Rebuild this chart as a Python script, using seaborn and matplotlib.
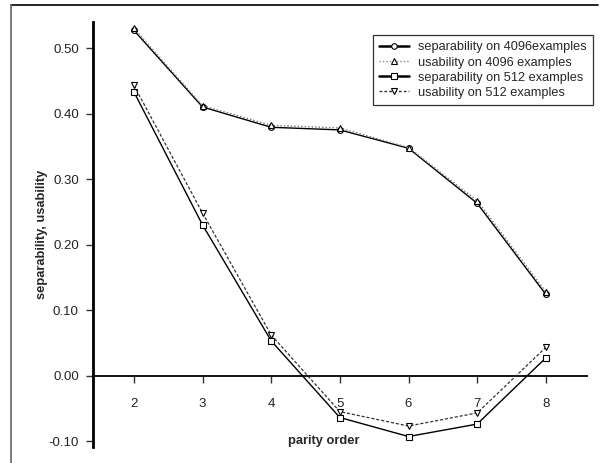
import matplotlib
matplotlib.use("Agg")
import matplotlib.pyplot as plt
from matplotlib.lines import Line2D
import seaborn as sns
import pandas as pd

# parity order on the x axis
parity_order = [2, 3, 4, 5, 6, 7, 8]

# separability / usability measured on two training-set sizes
sep_4096 = [0.527, 0.410, 0.379, 0.375, 0.347, 0.263, 0.124]
usa_4096 = [0.530, 0.412, 0.382, 0.378, 0.348, 0.267, 0.128]
sep_512 = [0.433, 0.230, 0.053, -0.064, -0.093, -0.074, 0.027]
usa_512 = [0.443, 0.248, 0.062, -0.055, -0.077, -0.057, 0.043]

series_names = [
    "separability on 4096examples",
    "usability on 4096 examples",
    "separability on 512 examples",
    "usability on 512 examples",
]
y_ticks = [-0.10, 0.00, 0.10, 0.20, 0.30, 0.40, 0.50]

sns.set_style("white")
plt.rcParams["font.family"] = ["Liberation Sans", "DejaVu Sans"]

frames = []
for name, vals in zip(series_names, [sep_4096, usa_4096, sep_512, usa_512]):
    frames.append(pd.DataFrame({"order": parity_order, "value": vals, "series": name}))
df = pd.concat(frames, ignore_index=True)

styles = {
    series_names[0]: dict(color="black", ls="-", lw=1.0, marker="o"),
    series_names[1]: dict(color="#777777", ls=(0, (1, 1.5)), lw=1.0, marker="^"),
    series_names[2]: dict(color="black", ls="-", lw=1.0, marker="s"),
    series_names[3]: dict(color="#333333", ls=(0, (2.5, 1.5)), lw=0.9, marker="v"),
}

fig = plt.figure(figsize=(6.01, 4.63), dpi=100)
ax_left, ax_bottom_px, ax_top_px, ax_right = 92.7, 447, 22, 587
ax = fig.add_axes([ax_left / 601, (463 - ax_bottom_px) / 463,
                   (ax_right - ax_left) / 601, (ax_bottom_px - ax_top_px) / 463])
ax_w = ax_right - ax_left
ax_h = ax_bottom_px - ax_top_px

for name in series_names:
    st = styles[name]
    sns.lineplot(data=df[df["series"] == name], x="order", y="value", ax=ax,
                 color=st["color"], linestyle=st["ls"], linewidth=st["lw"],
                 marker=st["marker"], markersize=4.2, markerfacecolor="white",
                 markeredgecolor="black", markeredgewidth=0.8, legend=False,
                 zorder=3)

ax.set_xlim(1.4, 8.6)
ax.set_ylim(-0.109, 0.5397)
ax.set_xticks(parity_order)
ax.set_yticks(y_ticks)
ax.set_yticklabels([f"{v:.2f}" for v in y_ticks])

for s in ["top", "right"]:
    ax.spines[s].set_visible(False)
ax.spines["left"].set_linewidth(2.0)
ax.spines["left"].set_color("black")
ax.spines["bottom"].set_position(("data", 0))
ax.spines["bottom"].set_linewidth(1.3)
ax.spines["bottom"].set_color("black")

ax.tick_params(axis="x", direction="out", length=5, width=1, color="#333333",
               labelsize=9.5, pad=11, labelcolor="#222222", bottom=True)
ax.tick_params(axis="y", direction="out", length=5, width=1, color="#333333",
               labelsize=9.5, pad=5, labelcolor="#222222", left=True)

ax.set_xlabel("parity order", fontsize=9.3, fontweight="bold")
ax.set_ylabel("separability, usability", fontsize=9.3, fontweight="bold")
ax.xaxis.set_label_coords((324 - ax_left) / ax_w, (ax_bottom_px - 435) / ax_h)
ax.yaxis.set_label_coords(-(ax_left - 48) / ax_w, 0.5)

handles = [
    Line2D([], [], color="black", ls="-", lw=1.8, marker="o", markersize=4,
           markerfacecolor="white", markeredgecolor="black", markeredgewidth=0.8),
    Line2D([], [], color="#888888", ls=(0, (1, 1.5)), lw=1.0, marker="^", markersize=4,
           markerfacecolor="white", markeredgecolor="black", markeredgewidth=0.8),
    Line2D([], [], color="black", ls="-", lw=1.8, marker="s", markersize=4,
           markerfacecolor="white", markeredgecolor="black", markeredgewidth=0.8),
    Line2D([], [], color="#333333", ls=(0, (2, 1.5)), lw=1.0, marker="v", markersize=4,
           markerfacecolor="white", markeredgecolor="black", markeredgewidth=0.8),
]
leg = ax.legend(handles, series_names, loc="upper left",
                bbox_to_anchor=(373 / 601, 1 - 35 / 463), bbox_transform=fig.transFigure,
                fontsize=9.2, frameon=True, fancybox=False, edgecolor="black",
                borderpad=0.5, labelspacing=0.25, handlelength=2.3, handletextpad=0.75,
                borderaxespad=0)
leg.get_frame().set_linewidth(0.9)

# page frame lines along the top and left edges
fig.add_artist(Line2D([11 / 601, 598 / 601], [1 - 5 / 463, 1 - 5 / 463],
                      transform=fig.transFigure, color="black", lw=1.2))
fig.add_artist(Line2D([11 / 601, 11 / 601], [0, 1 - 5 / 463],
                      transform=fig.transFigure, color="#666666", lw=1.2))

fig.savefig("out.png", dpi=100)
